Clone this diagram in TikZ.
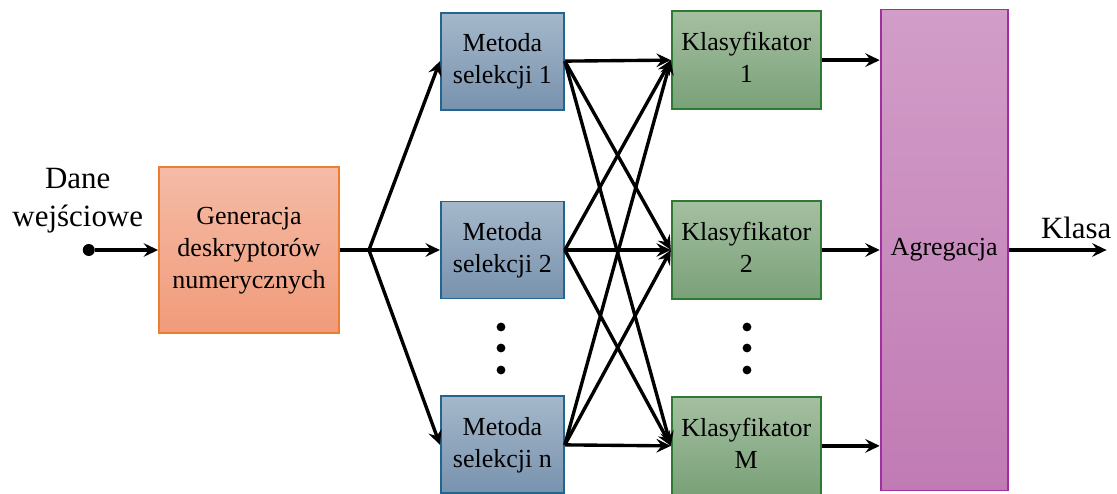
\documentclass[tikz,border=0pt]{standalone}
\usepackage{fontspec}
\setmainfont{Liberation Serif}
\usetikzlibrary{arrows.meta,positioning}

\definecolor{genedge}{HTML}{ED7D31}
\definecolor{gentop}{HTML}{F5BBA6}
\definecolor{genbot}{HTML}{F19B7A}
\definecolor{metedge}{HTML}{22668F}
\definecolor{mettop}{HTML}{A5B8CA}
\definecolor{metbot}{HTML}{7892AE}
\definecolor{kledge}{HTML}{2F7A33}
\definecolor{kltop}{HTML}{A5BFA1}
\definecolor{klbot}{HTML}{79A178}
\definecolor{agredge}{HTML}{A22EA2}
\definecolor{agrtop}{HTML}{D29DC8}
\definecolor{agrbot}{HTML}{C07BB4}

\begin{document}
\begin{tikzpicture}[x=0.025cm,y=-0.025cm]
  \tikzstyle{block}=[rectangle, line width=1.3pt, inner sep=0pt,
                     font=\fontsize{18.5}{22.8}\selectfont]
  \tikzstyle{genblock}=[block, draw=genedge, top color=gentop, bottom color=genbot,
                        minimum width=4.5cm, minimum height=4.15cm]
  \tikzstyle{metblock}=[block, draw=metedge, top color=mettop, bottom color=metbot,
                        minimum width=3.075cm, minimum height=2.425cm]
  \tikzstyle{klblock}=[block, draw=kledge, top color=kltop, bottom color=klbot,
                       minimum width=3.725cm, minimum height=2.45cm]
  \tikzstyle{agrblock}=[block, draw=agredge, top color=agrtop, bottom color=agrbot,
                        minimum width=3.175cm, minimum height=12.025cm]
  \tikzstyle{outlabel}=[inner sep=0pt, font=\fontsize{22}{27}\selectfont]
  \tikzstyle{arr}=[-{Stealth[length=3.6mm,width=3.4mm,inset=1.3mm]}, line width=2.4pt]
  \useasboundingbox (0,0) rectangle (1117,493);

  \node[genblock] (Generation) at (249,250) {\begin{tabular}{c}Generacja\\
                                                               deskryptorów\\
                                                               numerycznych
                                             \end{tabular}};
  \node[circle, fill=black, inner sep=0pt, minimum size=0.3cm,
        left=1.575cm of Generation] (Input) {};
  \node[outlabel, above=0.14cm of Input, xshift=-0.275cm] (Input Label) {\begin{tabular}{c}Dane\\
                                                                                         wejściowe
                                                                       \end{tabular}};
  \coordinate[right=0.725cm of Generation] (Split);

  \node[metblock, right=2.5cm of Generation] (Selection 2) {\begin{tabular}{c}Metoda\\
                                                                             selekcji 2
                                                           \end{tabular}};
  \node[metblock, above=2.25cm of Selection 2] (Selection 1) {\begin{tabular}{c}Metoda\\
                                                                               selekcji 1
                                                             \end{tabular}};
  \node[metblock, below=2.4cm of Selection 2] (Selection n) {\begin{tabular}{c}Metoda\\
                                                                               selekcji n
                                                             \end{tabular}};

  \node[klblock, right=2.65cm of Selection 2] (Classifier 2) {\begin{tabular}{c}Klasyfikator\\
                                                                               2
                                                             \end{tabular}};
  \node[klblock, above=2.25cm of Classifier 2] (Classifier 1) {\begin{tabular}{c}Klasyfikator\\
                                                                                 1
                                                               \end{tabular}};
  \node[klblock, below=2.4cm of Classifier 2] (Classifier M) {\begin{tabular}{c}Klasyfikator\\
                                                                                 M
                                                               \end{tabular}};

  \node[agrblock, right=1.45cm of Classifier 2] (Aggregation) {Agregacja};
  \coordinate[right=2.45cm of Aggregation] (Output);

  \foreach \y in {327,348,370} {
    \fill (501,\y) circle (0.11cm);
    \fill (747,\y) circle (0.11cm);
  }

  \draw [arr] (Input) -- (Generation);
  \draw [line width=2.4pt] (Generation) -- (Split);
  \foreach \s in {1,2,n}
    \draw [arr] (Split) -- (Selection \s.west);
  \foreach \s in {1,2,n}
    \foreach \c in {1,2,M}
      \draw [arr] (Selection \s.east) -- (Classifier \c.west);
  \foreach \c in {1,2,M}
    \draw [arr] (Classifier \c.east) -- (Classifier \c.east -| Aggregation.west);
  \draw [arr] (Aggregation) -- node[outlabel, pos=0.69, above=0.25cm] (Output Label) {Klasa} (Output);
\end{tikzpicture}
\end{document}
